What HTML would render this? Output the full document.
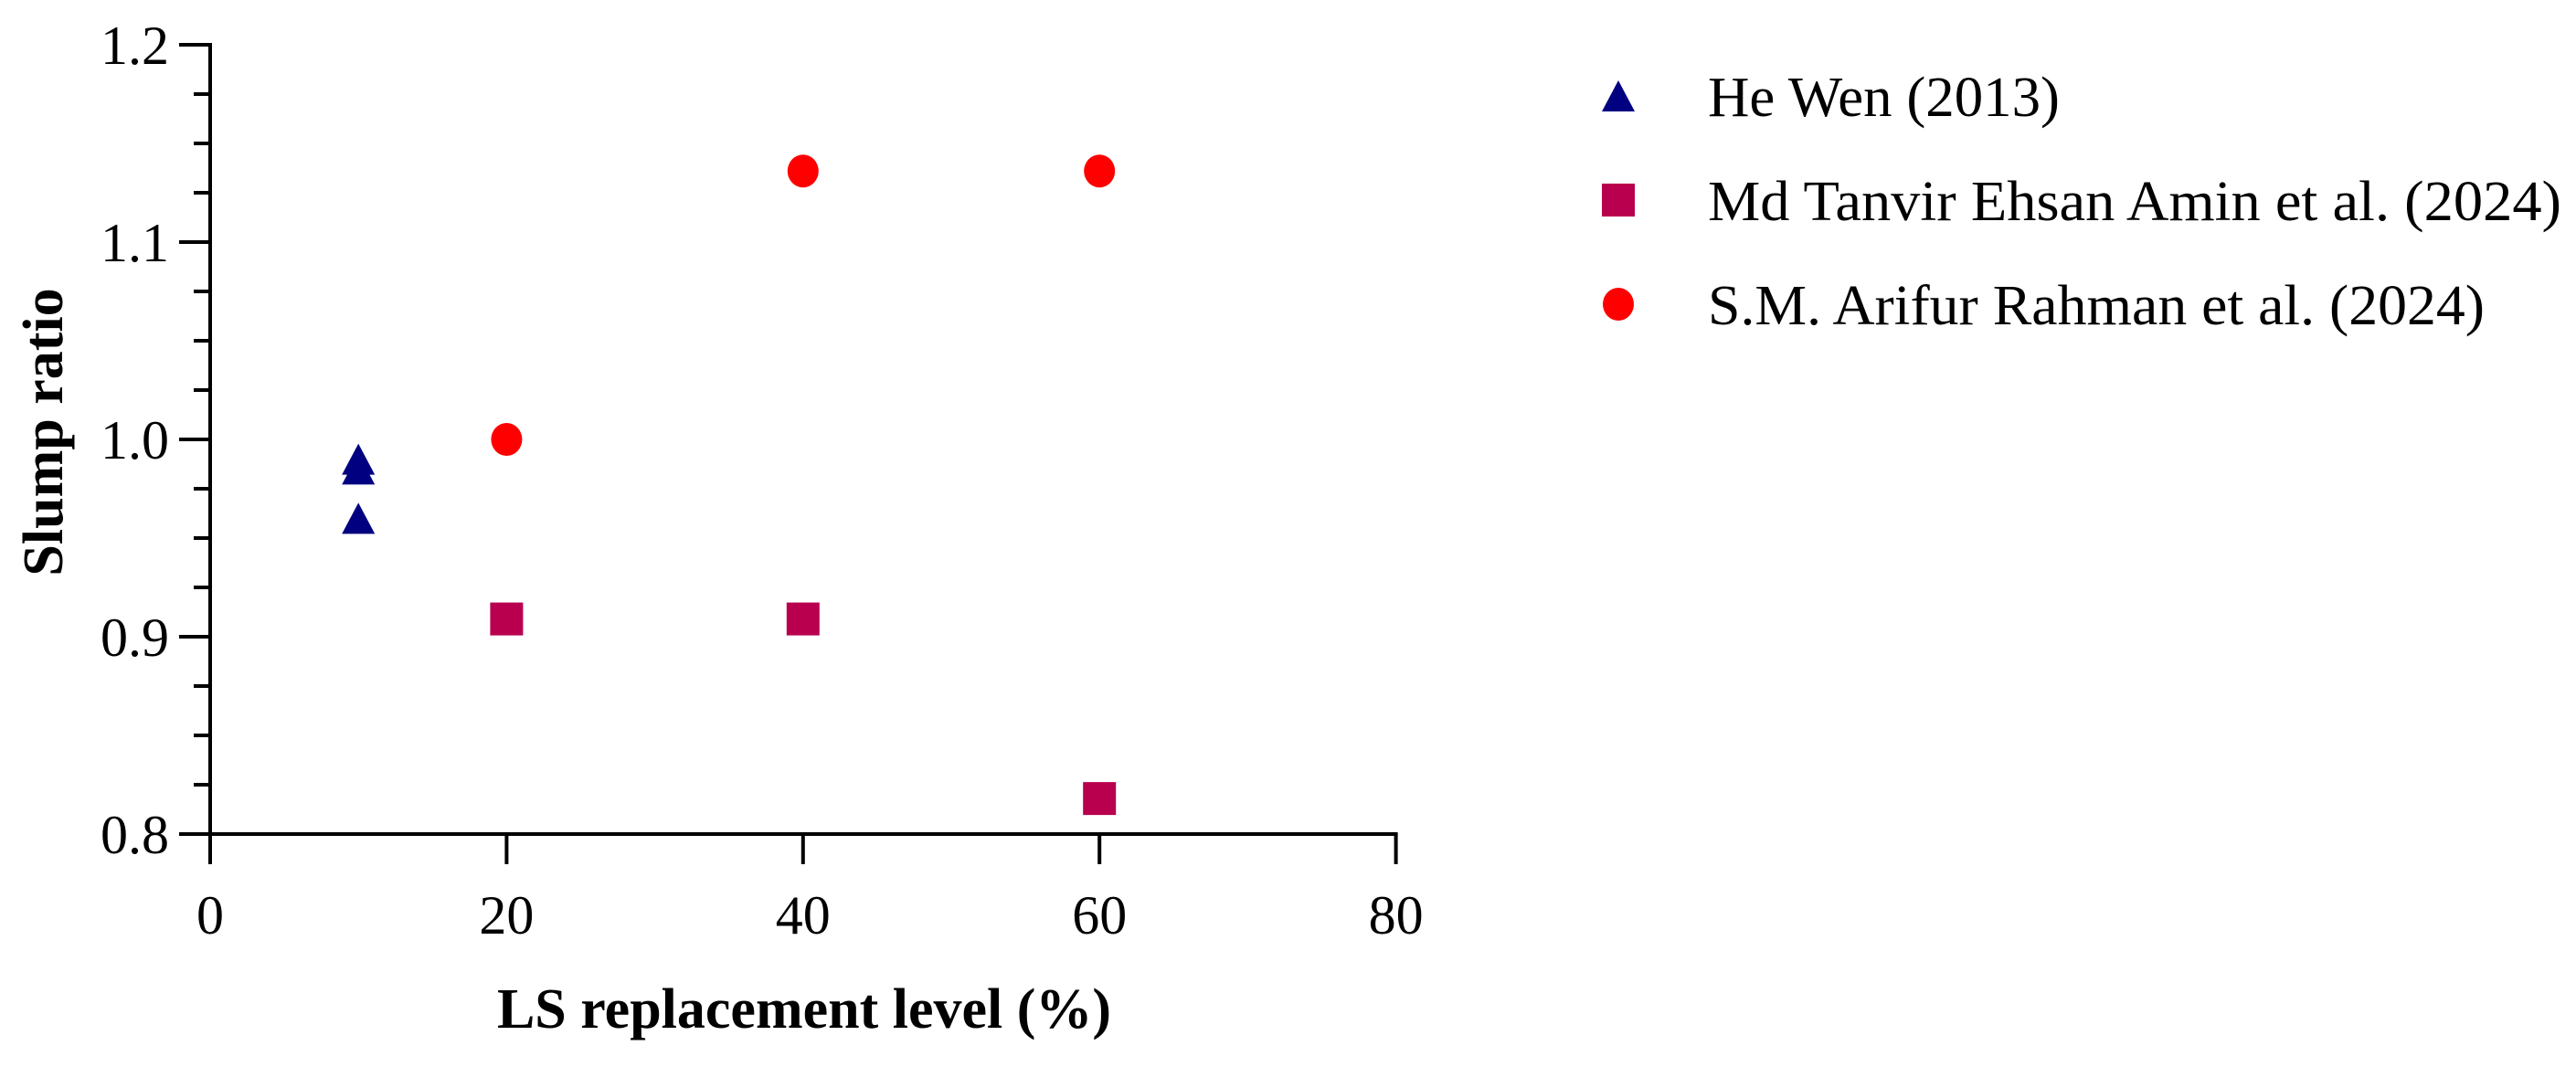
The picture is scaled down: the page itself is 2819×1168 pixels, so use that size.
<!DOCTYPE html>
<html><head><meta charset="utf-8"><style>
html,body{margin:0;padding:0;background:#fff;}
svg{display:block;font-family:"Liberation Serif",serif;}
</style></head><body>
<svg id="chart" width="2819" height="1168" viewBox="0 0 2819 1168">
<g id="axes"></g>
<g id="marks"></g>
<g id="legend"></g>
<text x="880" y="1125" font-size="62" font-weight="bold" text-anchor="middle">LS replacement level (%)</text>
<text transform="translate(68,473) rotate(-90)" font-size="62" font-weight="bold" text-anchor="middle">Slump ratio</text>
</svg>
<script>
const xTicks = [0, 20, 40, 60, 80];
const yTicks = [0.8, 0.9, 1.0, 1.1, 1.2];
const yTickLabels = ["0.8", "0.9", "1.0", "1.1", "1.2"];
const heWenX = [10, 10, 10];
const heWenY = [0.99, 0.985, 0.96];
const aminX = [20, 40, 60];
const aminY = [0.909, 0.909, 0.818];
const rahmanX = [20, 40, 60];
const rahmanY = [1.0, 1.136, 1.136];
const legendLabels = ["He Wen (2013)", "Md Tanvir Ehsan Amin et al. (2024)", "S.M. Arifur Rahman et al. (2024)"];

const NS = "http://www.w3.org/2000/svg";
const X0 = 230, XS = 16.22;
const Y1 = 481, YS = 2160;
function sx(v){ return X0 + v * XS; }
function sy(v){ return Y1 - (v - 1.0) * YS; }
function mk(tag, attrs, parent){
  const e = document.createElementNS(NS, tag);
  for (const k in attrs) e.setAttribute(k, attrs[k]);
  parent.appendChild(e);
  return e;
}
const axes = document.getElementById('axes');
const marks = document.getElementById('marks');
const legend = document.getElementById('legend');
const yTop = sy(1.2), yBot = sy(0.8), xRight = sx(80);

let l = mk('line', {x1:X0, y1:yTop-2, x2:X0, y2:yBot+33, stroke:'#000', 'stroke-width':4}, axes);


l = mk('line', {x1:X0-34, y1:yBot, x2:xRight+2, y2:yBot, stroke:'#000', 'stroke-width':4}, axes);



for (let i = 0; i < xTicks.length; i++) {
  const x = sx(xTicks[i]);
  const t = mk('line', {x1:x, y1:yBot, x2:x, y2:yBot+33, stroke:'#000', 'stroke-width':4}, axes);
  
  
  const tx = mk('text', {x:x, y:1022, 'font-size':60, 'text-anchor':'middle'}, axes);
  tx.textContent = String(xTicks[i]);
  
  
}
for (let i = 0; i < yTicks.length; i++) {
  const y = sy(yTicks[i]);
  const t = mk('line', {x1:X0-34, y1:y, x2:X0, y2:y, stroke:'#000', 'stroke-width':4}, axes);
  
  
  const tx = mk('text', {x:185, y:y+21, 'font-size':60, 'text-anchor':'end'}, axes);
  tx.textContent = yTickLabels[i];
  
  
}
for (let v = 0.8; v < 1.2; v += 0.1) {
  for (let k = 1; k < 4; k++) {
    const y = sy(v + k * 0.025);
    const t = mk('line', {x1:X0-18, y1:y, x2:X0, y2:y, stroke:'#000', 'stroke-width':4}, axes);
    
    
  }
}

function tri(cx, cy, parent){
  return mk('polygon', {points:`${cx},${cy-17} ${cx+18},${cy+17} ${cx-18},${cy+17}`, fill:'#000080'}, parent);
}
function sq(cx, cy, parent){
  return mk('rect', {x:cx-18, y:cy-18, width:36, height:36, fill:'#b8004f'}, parent);
}
function circ(cx, cy, parent){
  return mk('ellipse', {cx:cx, cy:cy, rx:17, ry:18, fill:'#ff0000'}, parent);
}
for (let i = 0; i < heWenX.length; i++) {
  const p = tri(sx(heWenX[i]), sy(heWenY[i]), marks);
  
  
}
for (let i = 0; i < aminX.length; i++) {
  const p = sq(sx(aminX[i]), sy(aminY[i]), marks);
  
  
}
for (let i = 0; i < rahmanX.length; i++) {
  const p = circ(sx(rahmanX[i]), sy(rahmanY[i]), marks);
  
  
}

const legendY = [105, 219, 333];
const legendFns = [tri, sq, circ];
const legendWidths = [385, 934, 850];
for (let i = 0; i < legendLabels.length; i++) {
  const m = legendFns[i](1771, legendY[i], legend);
  
  
  const tx = mk('text', {x:1869, y:legendY[i]+22, 'font-size':62, textLength:legendWidths[i], lengthAdjust:'spacingAndGlyphs'}, legend);
  tx.textContent = legendLabels[i];
  
  
}
</script>
</body></html>
